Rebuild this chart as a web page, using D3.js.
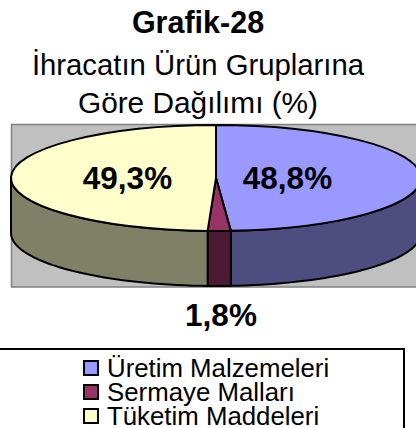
<!DOCTYPE html>
<html><head><meta charset="utf-8">
<script src="https://cdn.jsdelivr.net/npm/d3@7"></script>
<style>html,body{margin:0;padding:0;background:#fff;overflow:hidden}svg{display:block}text{font-family:"Liberation Sans",Arial,sans-serif;fill:#000}</style>
</head><body><svg id="c" width="416" height="428"></svg>
<script>
const categories = ["Üretim Malzemeleri","Sermaye Malları","Tüketim Maddeleri"];
const values = [48.8,1.8,49.3];
const labels = ["48,8%","1,8%","49,3%"];
const topColors = ["#9999FF","#993366","#FFFFCC"];
const sideColors = ["#4D4D80","#4D1A33","#808066"];
const titleLines = ["Grafik-28","İhracatın Ürün Gruplarına","Göre Dağılımı (%)"];

const svg = d3.select("#c");
const W=416, cx=216, cy=178, rx=205, ry=53, depth=55;

titleLines.forEach((t,i)=>svg.append("text").attr("x",198).attr("y",[33,75,113][i])
  .attr("text-anchor","middle").attr("font-size",[30.5,29.3,29.8][i]).attr("font-weight",i?400:700).text(t));

svg.append("rect").attr("x",11.5).attr("y",124.5).attr("width",W).attr("height",162.5)
  .attr("fill","#C0C0C0").attr("stroke","#808080").attr("stroke-width",1.5);

const pie = d3.pie().sort(null).value(d=>d)(values);
const px = a=>cx+rx*Math.sin(a), py=(a,dy=0)=>cy-ry*Math.cos(a)+dy;
const line = d3.line();
const PI=Math.PI;

pie.forEach((s,i)=>{
  const a0=Math.max(s.startAngle,PI/2), a1=Math.min(s.endAngle,3*PI/2);
  if(a1<=a0) return;
  const as=d3.range(0,41).map(k=>a0+(a1-a0)*k/40);
  const pts=as.map(a=>[px(a),py(a)]).concat(as.slice().reverse().map(a=>[px(a),py(a,depth)]));
  svg.append("path").attr("d",line(pts)+"Z").attr("fill",sideColors[i])
    .attr("stroke","#000").attr("stroke-width",2).attr("stroke-linejoin","round");
});
const arc=d3.arc().innerRadius(0).outerRadius(rx);
const g=svg.append("g").attr("transform",`translate(${cx},${cy}) scale(1,${ry/rx})`);
pie.forEach((s,i)=>{
  g.append("path").attr("d",arc(s)).attr("fill",topColors[i])
   .attr("stroke","#000").attr("stroke-width",2).attr("stroke-linejoin","round")
   .attr("vector-effect","non-scaling-stroke");
});

[[287.5,189],[221,326],[127.5,189]].forEach((p,i)=>svg.append("text").attr("x",p[0]).attr("y",p[1])
  .attr("text-anchor","middle").attr("font-size",31.5).attr("font-weight",700).text(labels[i]));

svg.append("rect").attr("x",-2).attr("y",349).attr("width",406).attr("height",90)
  .attr("fill","#fff").attr("stroke","#000").attr("stroke-width",2);
categories.forEach((c,i)=>{
  const y=[368,392,416][i];
  svg.append("rect").attr("x",84).attr("y",y-7).attr("width",14).attr("height",14)
    .attr("fill",topColors[i]).attr("stroke","#000").attr("stroke-width",2);
  svg.append("text").attr("x",107).attr("y",y+9).attr("font-size",25.8).text(c);
});
</script></body></html>
